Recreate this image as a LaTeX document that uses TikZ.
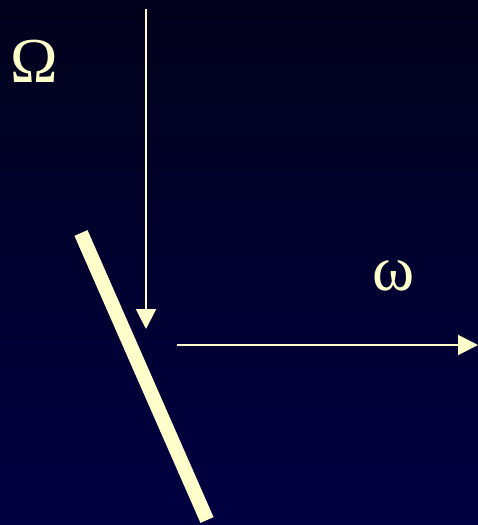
\documentclass[tikz,border=0pt]{standalone}
\usepackage{fontspec}
\setmainfont{Liberation Serif}
\usetikzlibrary{arrows.meta, positioning}
\definecolor{cnight}{HTML}{02021C}
\definecolor{cdeep}{HTML}{000042}
\definecolor{ccream}{HTML}{FFFFCC}
\tikzset{
  every picture/.style={x=0.75pt, y=-0.75pt},
  greek/.style={text=ccream, font=\fontsize{48}{54}\selectfont, inner sep=0pt},
  axis/.style={draw=ccream, line width=1.5pt, -{Triangle[length=15pt, width=15pt]}},
  mirror/.style={draw=ccream, line width=10.7pt, line cap=butt},
}
\begin{document}
\begin{tikzpicture}
  % background
  \shade[top color=cnight, bottom color=cdeep] (0,0) rectangle (478,525);
  \useasboundingbox (0,0) rectangle (478,525);
  % labels
  \node[greek] (bigomega) at (34,61) {Ω};
  \node[greek] (smallomega) at (394,276) {ω};
  % axes
  \coordinate (vtop) at (146,9);
  \coordinate (vend) at (146,329);
  \coordinate (hstart) at (177,345);
  \coordinate (hend) at (478,345);
  \draw[axis] (vtop) -- (vend);
  \draw[axis] (hstart) -- (hend);
  % tilted bar
  \coordinate (bartop) at (81,233);
  \coordinate (barbot) at (207,520);
  \draw[mirror] (bartop) -- (barbot);
\end{tikzpicture}
\end{document}
